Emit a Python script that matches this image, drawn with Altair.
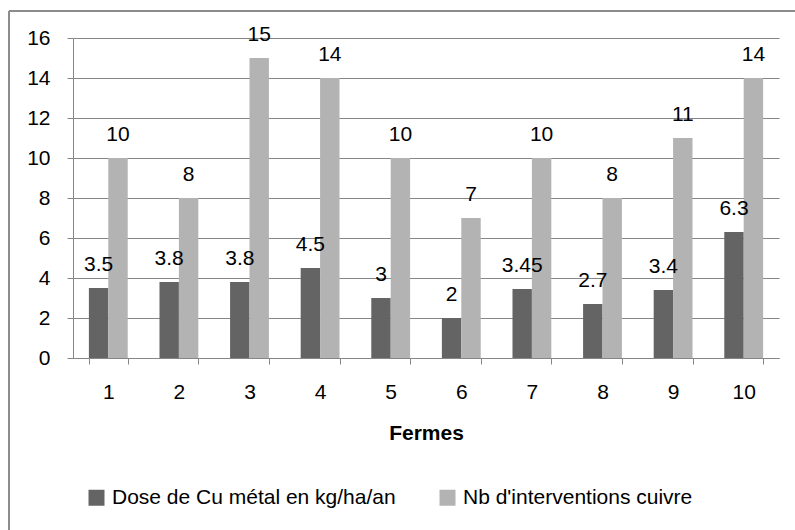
import altair as alt
import pandas as pd

# Values per farm
fermes = ["1", "2", "3", "4", "5", "6", "7", "8", "9", "10"]
dose_cu = [3.5, 3.8, 3.8, 4.5, 3, 2, 3.45, 2.7, 3.4, 6.3]
nb_interventions = [10, 8, 15, 14, 10, 7, 10, 8, 11, 14]
series_names = ["Dose de Cu métal en kg/ha/an", "Nb d'interventions cuivre"]
series_colors = ["#646464", "#b3b3b3"]
y_ticks = [0, 2, 4, 6, 8, 10, 12, 14, 16]

FONT = "Liberation Sans"
GRID = "#868686"

rows = []
for f, d, n in zip(fermes, dose_cu, nb_interventions):
    for name, v in zip(series_names, (d, n)):
        rows.append({"ferme": f, "serie": name, "valeur": v, "label": f"{v:g}"})
df = pd.DataFrame(rows)

x_enc = alt.X(
    "ferme:N",
    sort=fermes,
    scale=alt.Scale(paddingInner=0.45, paddingOuter=0.225),
    axis=alt.Axis(
        title="Fermes",
        titleFontWeight="bold",
        titleFontSize=21,
        titleFont=FONT,
        titleY=75,
        titleBaseline="middle",
        labelAngle=0,
        labelFont=FONT,
        labelFontSize=21,
        labelColor="black",
        labelPadding=17,
        tickBand="extent",
        tickSize=6,
        tickColor=GRID,
        domainColor=GRID,
        grid=False,
    ),
)
y_enc = alt.Y(
    "valeur:Q",
    scale=alt.Scale(domain=[0, 16], nice=False),
    axis=alt.Axis(
        title=None,
        values=y_ticks,
        tickCount=9,
        labelOverlap=False,
        labelFont=FONT,
        labelFontSize=21,
        labelColor="black",
        labelPadding=17,
        tickSize=6,
        tickColor=GRID,
        domainColor=GRID,
        grid=True,
        gridColor=GRID,
    ),
)
offset_enc = alt.XOffset("serie:N", sort=series_names, scale=alt.Scale(paddingInner=0, paddingOuter=0))

bars = alt.Chart(df).mark_bar().encode(
    x=x_enc,
    y=y_enc,
    xOffset=offset_enc,
    color=alt.Color(
        "serie:N",
        sort=series_names,
        scale=alt.Scale(domain=series_names, range=series_colors),
        legend=alt.Legend(
            title=None,
            orient="none",
            direction="horizontal",
            legendX=13,
            legendY=449,
            padding=0,
            symbolType="square",
            symbolSize=256,
            symbolStrokeWidth=0,
            symbolOpacity=1,
            labelFont=FONT,
            labelFontSize=21,
            labelColor="black",
            labelOffset=5,
            labelLimit=500,
            columnPadding=41,
        ),
    ),
)

labels = alt.Chart(df).mark_text(
    baseline="middle", dy=-23, font=FONT, fontSize=21, color="black"
).encode(
    x=x_enc,
    y=y_enc,
    xOffset=offset_enc,
    text="label:N",
)

# Chart-area frame on the left and top edges
frame_top = alt.Chart(df).mark_rule(color="#8c8c8c", strokeWidth=1.5).encode(
    x=alt.value(-64), x2=alt.value(740), y=alt.value(-27)
)
frame_left = alt.Chart(df).mark_rule(color="#8c8c8c", strokeWidth=1.5).encode(
    x=alt.value(-64), y=alt.value(-27), y2=alt.value(520)
)

chart = (
    alt.layer(bars, labels, frame_top, frame_left)
    .properties(
        width=706,
        height=320,
        autosize=alt.AutoSizeParams(type="none"),
        padding={"left": 73, "top": 38, "right": 16, "bottom": 172},
        background="white",
    )
    .configure_view(stroke=None)
)

chart.save("out.html", embed_options={"renderer": "svg", "actions": False})
